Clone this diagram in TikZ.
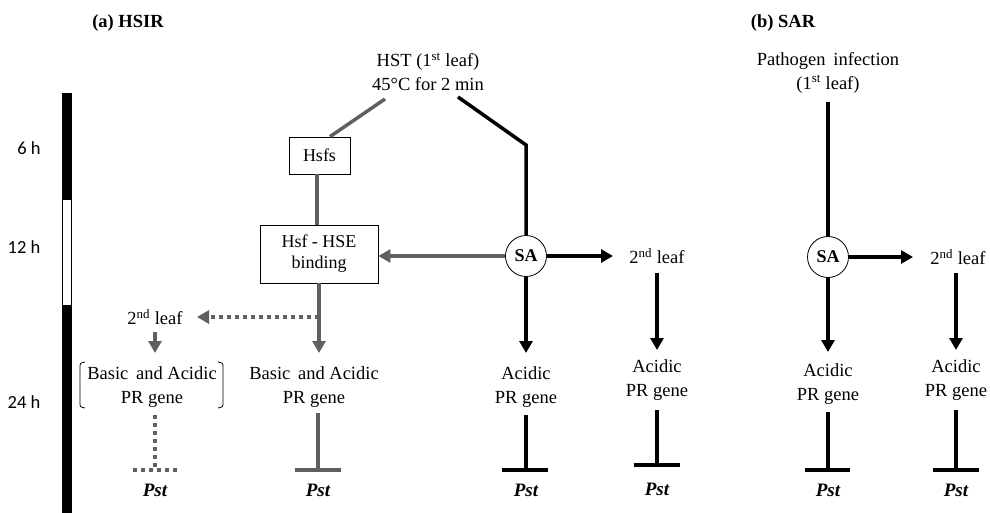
\documentclass[tikz,border=0pt]{standalone}
\usepackage{fontspec}
\setmainfont{Liberation Serif}
\newfontfamily\calfont{Carlito}
\usetikzlibrary{arrows.meta}
\definecolor{grayc}{HTML}{5F5F5F}
\tikzset{
  blk/.style={line width=3.5pt, draw=black},
  gry/.style={line width=3.5pt, draw=grayc},
  arr/.style={-{Triangle[length=12pt,width=13pt]}},
  dots/.style={dash pattern=on 4pt off 4pt},
  txt/.style={font=\fontsize{18.5}{24}\selectfont, align=center, inner sep=1pt},
  boxnode/.style={draw, line width=0.8pt, font=\fontsize{18}{21}\selectfont, align=center, inner sep=2pt},
  pstlabel/.style={font=\fontsize{19}{20}\selectfont\bfseries\itshape, inner sep=1pt},
  timelabel/.style={font=\calfont\fontsize{18.5}{20}\selectfont, inner sep=1pt},
  title/.style={font=\fontsize{18.5}{20}\selectfont\bfseries, inner sep=1pt},
  sanode/.style={circle, draw, line width=0.8pt, minimum size=41pt, inner sep=0pt, font=\fontsize{18}{18}\selectfont\bfseries, fill=white}
}
\begin{document}
\begin{tikzpicture}[x=1pt,y=-1pt]
\useasboundingbox (0,0) rectangle (990,513);
% titles
\node[title] (ta) at (128,23) {(a) HSIR};
\node[title] (tb) at (783,23) {(b) SAR};
% time bar
\fill[black] (62,93) rectangle (72,513);
\filldraw[fill=white, draw=black, line width=1pt] (62.5,200) rectangle (71.5,305);
\node[timelabel] (t6) at (29,148) {6 h};
\node[timelabel] (t12) at (24,247) {12 h};
\node[timelabel] (t24) at (24,402) {24 h};
% ---------- HSIR ----------
\node[txt] (hst) at (428,72) {HST (1\textsuperscript{st} leaf)\\45\textdegree C for 2 min};
\node[boxnode, minimum width=61pt, minimum height=37pt] (hsfs) at (319.5,155.5) {Hsfs};
\node[boxnode, minimum width=118pt, minimum height=58pt] (hse) at (319,254) {Hsf - HSE\\binding};
\node[sanode] (sa1) at (526,256) {SA};
\node[txt] (leaf2a) at (657,256) {2\textsuperscript{nd} leaf};
\node[txt] (acid1) at (526,387.5) {Acidic\\PR gene};
\node[txt] (acid2) at (657,380.5) {Acidic\\PR gene};
\node[txt] (basic1) at (314,387) {Basic\, and Acidic\\PR gene};
\node[txt] (leaf2b) at (155,317) {2\textsuperscript{nd} leaf};
\node[txt] (basic2) at (152,387) {Basic\, and Acidic\\PR gene};
\node[pstlabel] (p1) at (155,490) {Pst};
\node[pstlabel] (p2) at (318,490) {Pst};
\node[pstlabel] (p3) at (526,490) {Pst};
\node[pstlabel] (p4) at (657,489) {Pst};
% coordinates
\coordinate (hstL) at (385,99);
\coordinate (hstR) at (458,97);
\coordinate (bend) at (526,145);
\coordinate (dotS) at (319,317);
\coordinate (leafAend) at (613,256);
\coordinate (leafBend) at (197,317);
% connectors
\draw[gry] (hstL) -- (hsfs.north -| 330,0);
\draw[gry] (hsfs.south -| 317,0) -- (hse.north -| 317,0);
\draw[blk] (hstR) -- (bend) -- (sa1.north);
\draw[gry, arr] (sa1.west) -- (sa1.west -| hse.east);
\draw[blk, arr] (sa1.east) -- (leafAend);
\draw[blk, arr] (sa1.south) -- (526,353);
\draw[blk, arr] (657,273) -- (657,350);
\draw[gry, arr] (hse.south -| 319,0) -- (319,353);
\draw[gry, dots] (dotS) -- (208,317);
\draw[gry, arr] (209,317) -- (leafBend);
\draw[gry, arr] (155,332) -- (155,353);
% inhibitions
\draw[gry] (318,413) -- (318,470);
\draw[gry] (295,470) -- (341,470);
\draw[blk] (526,415) -- (526,470);
\draw[blk] (502,470) -- (548,470);
\draw[blk] (657,410) -- (657,465);
\draw[blk] (634,465) -- (680,465);
\draw[gry, dots] (155,415) -- (155,470);
\draw[gry, dots] (133,470) -- (177,470);
% brackets
\draw[line width=0.8pt] (85,362) .. controls (80,363) .. (80,368) -- (80,402) .. controls (80,407) .. (85,408);
\draw[line width=0.8pt] (218,362) .. controls (223,363) .. (223,368) -- (223,402) .. controls (223,407) .. (218,408);
% ---------- SAR ----------
\node[txt] (path) at (828,72.5) {Pathogen\, infection\\(1\textsuperscript{st} leaf)};
\node[sanode] (sa2) at (828,257) {SA};
\node[txt] (leaf2c) at (958,257) {2\textsuperscript{nd} leaf};
\node[txt] (acid3) at (828,384.5) {Acidic\\PR gene};
\node[txt] (acid4) at (956,380.5) {Acidic\\PR gene};
\node[pstlabel] (p5) at (828,490) {Pst};
\node[pstlabel] (p6) at (956,490) {Pst};
\coordinate (leafCend) at (913,257);
\draw[blk] (828,102) -- (sa2.north);
\draw[blk, arr] (sa2.east) -- (leafCend);
\draw[blk, arr] (sa2.south) -- (828,352);
\draw[blk, arr] (956,273) -- (956,350);
\draw[blk] (828,412) -- (828,470);
\draw[blk] (805,470) -- (850,470);
\draw[blk] (956,410) -- (956,470);
\draw[blk] (933,470) -- (979,470);
\end{tikzpicture}
\end{document}
